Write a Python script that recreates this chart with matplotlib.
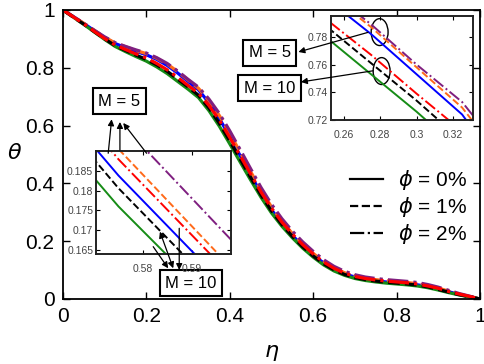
import matplotlib
matplotlib.use('Agg')
import matplotlib.pyplot as plt
from matplotlib.lines import Line2D
from matplotlib.patches import Ellipse

plt.rcParams['font.family'] = ['Liberation Sans', 'DejaVu Sans']
plt.rcParams['mathtext.fontset'] = 'dejavusans'

# eta grid
eta = [0.0, 0.025, 0.05, 0.075, 0.1, 0.125, 0.15, 0.175, 0.2, 0.225,
       0.25, 0.275, 0.3, 0.325, 0.35, 0.375, 0.4, 0.425, 0.45, 0.475,
       0.5, 0.525, 0.55, 0.575, 0.6, 0.625, 0.65, 0.675, 0.7, 0.725,
       0.75, 0.775, 0.8, 0.825, 0.85, 0.875, 0.9, 0.925, 0.95, 0.975, 1.0]

# M = 5
theta_m5_phi0 = [1.000, 0.977, 0.953, 0.929, 0.905, 0.884, 0.870, 0.857, 0.845, 0.829,
                 0.808, 0.782, 0.753, 0.724, 0.679, 0.625, 0.562, 0.496, 0.430, 0.366,
                 0.309, 0.261, 0.220, 0.1838, 0.152, 0.125, 0.103, 0.087, 0.076, 0.068,
                 0.063, 0.059, 0.056, 0.053, 0.049, 0.043, 0.035, 0.025, 0.016, 0.008, 0.000]
theta_m5_phi1 = [1.000, 0.977, 0.954, 0.930, 0.906, 0.886, 0.873, 0.860, 0.849, 0.833,
                 0.813, 0.787, 0.758, 0.729, 0.687, 0.635, 0.574, 0.508, 0.441, 0.377,
                 0.319, 0.269, 0.227, 0.1905, 0.158, 0.130, 0.108, 0.091, 0.080, 0.072,
                 0.067, 0.063, 0.060, 0.057, 0.053, 0.046, 0.038, 0.027, 0.017, 0.009, 0.000]
theta_m5_phi2 = [1.000, 0.977, 0.954, 0.930, 0.907, 0.887, 0.874, 0.862, 0.851, 0.835,
                 0.815, 0.789, 0.760, 0.733, 0.692, 0.642, 0.582, 0.517, 0.451, 0.386,
                 0.328, 0.278, 0.235, 0.1976, 0.165, 0.136, 0.113, 0.096, 0.084, 0.076,
                 0.071, 0.067, 0.064, 0.061, 0.057, 0.050, 0.041, 0.030, 0.019, 0.010, 0.000]
# M = 10
theta_m10_phi0 = [1.000, 0.975, 0.950, 0.924, 0.898, 0.874, 0.856, 0.839, 0.823, 0.803,
                  0.780, 0.753, 0.726, 0.697, 0.652, 0.598, 0.537, 0.474, 0.412, 0.352,
                  0.298, 0.252, 0.212, 0.176, 0.145, 0.118, 0.097, 0.082, 0.071, 0.064,
                  0.059, 0.055, 0.052, 0.049, 0.045, 0.039, 0.031, 0.022, 0.014, 0.007, 0.000]
theta_m10_phi1 = [1.000, 0.975, 0.951, 0.925, 0.900, 0.877, 0.860, 0.844, 0.829, 0.810,
                  0.788, 0.761, 0.734, 0.705, 0.661, 0.608, 0.547, 0.484, 0.421, 0.360,
                  0.305, 0.258, 0.217, 0.1806, 0.149, 0.122, 0.101, 0.085, 0.074, 0.067,
                  0.062, 0.058, 0.055, 0.052, 0.048, 0.042, 0.033, 0.024, 0.015, 0.008, 0.000]
theta_m10_phi2 = [1.000, 0.976, 0.952, 0.926, 0.901, 0.879, 0.863, 0.848, 0.834, 0.815,
                  0.793, 0.767, 0.739, 0.712, 0.670, 0.619, 0.559, 0.496, 0.433, 0.370,
                  0.315, 0.266, 0.225, 0.1879, 0.156, 0.128, 0.106, 0.090, 0.078, 0.071,
                  0.066, 0.062, 0.059, 0.056, 0.052, 0.045, 0.037, 0.026, 0.017, 0.009, 0.000]

main_ticks = [0, 0.2, 0.4, 0.6, 0.8, 1]
main_ticklabels = ['0', '0.2', '0.4', '0.6', '0.8', '1']
up_xticks = [0.26, 0.28, 0.30, 0.32]
up_xticklabels = ['0.26', '0.28', '0.3', '0.32']
up_yticks = [0.72, 0.74, 0.76, 0.78]
up_yticklabels = ['0.72', '0.74', '0.76', '0.78']
lo_xticks = [0.58, 0.59]
lo_xticklabels = ['0.58', '0.59']
lo_yticks = [0.165, 0.17, 0.175, 0.18, 0.185]
lo_yticklabels = ['0.165', '0.17', '0.175', '0.18', '0.185']
legend_labels = [r'$\phi$ = 0%', r'$\phi$ = 1%', r'$\phi$ = 2%']

BLUE = '#0000ff'
GREEN = '#168c16'
ORANGE = '#ff6a1a'
RED = '#ff0000'
PURPLE = '#7f1f80'
BLACK = '#000000'

curves = [
    (theta_m5_phi0, BLUE, '-'),
    (theta_m5_phi1, ORANGE, '--'),
    (theta_m5_phi2, PURPLE, '-.'),
    (theta_m10_phi0, GREEN, '-'),
    (theta_m10_phi1, BLACK, '--'),
    (theta_m10_phi2, RED, '-.'),
]

fig = plt.figure(figsize=(4.84, 3.64), dpi=100)
ax = fig.add_axes([0.130, 0.1786, 0.8616, 0.794])
for th, c, ls in curves:
    ax.plot(eta, th, color=c, ls=ls, lw=2.3)
ax.set_xlim(0, 1)
ax.set_ylim(0, 1)
ax.set_xticks(main_ticks)
ax.set_xticklabels(main_ticklabels)
ax.set_yticks(main_ticks)
ax.set_yticklabels(main_ticklabels)
ax.tick_params(labelsize=15, direction='in', top=True, right=True, length=5, width=1, pad=6)
for s in ax.spines.values():
    s.set_linewidth(1.3)
ax.set_xlabel(r'$\eta$', fontsize=16)
ax.xaxis.set_label_coords(0.5, -0.15)
ax.set_ylabel(r'$\theta$', fontsize=16, rotation=0, ha='center', va='center')
ax.yaxis.set_label_coords(-0.115, 0.505)

handles = [Line2D([], [], color='k', ls='-', lw=1.6),
           Line2D([], [], color='k', ls='--', lw=1.6),
           Line2D([], [], color='k', ls='-.', lw=1.6)]
ax.legend(handles, legend_labels, loc='center right', bbox_to_anchor=(1.014, 0.318),
          frameon=False, fontsize=15, handlelength=1.6, handletextpad=0.7, labelspacing=0.15)

box = dict(boxstyle='square,pad=0.33', fc='white', ec='black', lw=1.5)
ax.text(0.4964, 0.8512, 'M = 5', fontsize=12, ha='center', va='center', bbox=box)
ax.text(0.4952, 0.7284, 'M = 10', fontsize=12, ha='center', va='center', bbox=box)
ax.text(0.1355, 0.6834, 'M = 5', fontsize=12, ha='center', va='center', bbox=box)
ax.text(0.3070, 0.0536, 'M = 10', fontsize=12, ha='center', va='center', bbox=box)


def style_inset(a, xt, xtl, yt, ytl):
    a.set_xticks(xt)
    a.set_xticklabels(xtl)
    a.set_yticks(yt)
    a.set_yticklabels(ytl)
    a.tick_params(labelsize=7.5, labelcolor='#444444', direction='in', top=True,
                  right=True, length=3, width=0.8, pad=2)
    a.tick_params(axis='x', pad=7)
    for s in a.spines.values():
        s.set_linewidth(1.4)
        s.set_color('#222222')


# upper inset
axu = fig.add_axes([0.6839, 0.6703, 0.2934, 0.2857])
for th, c, ls in curves:
    axu.plot(eta, th, color=c, ls=ls, lw=1.4)
axu.set_xlim(0.253, 0.331)
axu.set_ylim(0.72, 0.795)
style_inset(axu, up_xticks, up_xticklabels, up_yticks, up_yticklabels)
axu.add_patch(Ellipse((0.2797, 0.7834), 0.0093, 0.0194, fill=False, ec='k', lw=1, clip_on=False))
axu.add_patch(Ellipse((0.2808, 0.7553), 0.0093, 0.0194, fill=False, ec='k', lw=1, clip_on=False))
arw = dict(arrowstyle='-|>', color='k', lw=0.9, mutation_scale=9, shrinkA=0, shrinkB=0)
axu.annotate('', xy=(0.5647, 0.8547), xycoords=ax.transData,
             xytext=(0.2733, 0.7832), textcoords='data', arrowprops=arw, annotation_clip=False)
axu.annotate('', xy=(0.5707, 0.7509), xycoords=ax.transData,
             xytext=(0.2761, 0.7555), textcoords='data', arrowprops=arw, annotation_clip=False)

# lower inset
axl = fig.add_axes([0.1983, 0.3022, 0.279, 0.283])
for th, c, ls in curves:
    axl.plot(eta, th, color=c, ls=ls, lw=1.4)
axl.set_xlim(0.5704, 0.598)
axl.set_ylim(0.164, 0.19)
style_inset(axl, lo_xticks, lo_xticklabels, lo_yticks, lo_yticklabels)

m5_arrows = [((0.1086, 0.5042), (0.1168, 0.6218)),
             ((0.1367, 0.5156), (0.1367, 0.6125)),
             ((0.2007, 0.5042), (0.1446, 0.6090))]
for tail, head in m5_arrows:
    axl.annotate('', xy=head, xycoords=ax.transData, xytext=tail,
                 textcoords=ax.transData, arrowprops=arw, annotation_clip=False)
m10_arrows = [((0.2165, 0.1810), (0.2525, 0.1062), '-|>'),
              ((0.2326, 0.2329), (0.2645, 0.1062), '<|-|>'),
              ((0.2789, 0.2446), (0.2789, 0.1003), '-|>')]
for tail, head, st in m10_arrows:
    p = dict(arw)
    p['arrowstyle'] = st
    axl.annotate('', xy=head, xycoords=ax.transData, xytext=tail,
                 textcoords=ax.transData, arrowprops=p, annotation_clip=False)

fig.savefig('out.png', dpi=100)
